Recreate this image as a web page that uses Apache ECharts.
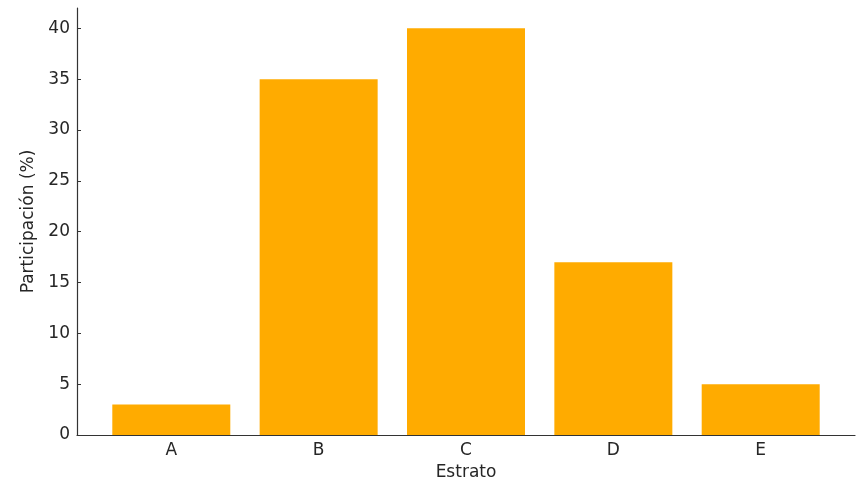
<!DOCTYPE html>
<html>
<head>
<meta charset="utf-8">
<script src="https://cdn.jsdelivr.net/npm/echarts@6/dist/echarts.min.js"></script>
<style>
  html, body { margin: 0; padding: 0; background: #fff; }
  #chart { width: 857px; height: 484px; }
</style>
</head>
<body>
<div id="chart"></div>
<script>
// Participation by stratum
const categories = ['A', 'B', 'C', 'D', 'E'];
const participation = [3, 35, 40, 17, 5];
const yTicks = [0, 5, 10, 15, 20, 25, 30, 35, 40];

const chart = echarts.init(document.getElementById('chart'), null, { renderer: 'canvas' });
const textColor = '#262626';
const font = 'DejaVu Sans';
const fontSize = 17;

chart.setOption({
  animation: false,
  backgroundColor: '#ffffff',
  grid: { left: 77, right: 2, top: 8, bottom: 49, containLabel: false, outerBoundsMode: 'none' },
  xAxis: {
    type: 'value',
    min: -0.64,
    max: 4.64,
    name: 'Estrato',
    nameLocation: 'middle',
    nameGap: 26,
    nameTextStyle: { color: textColor, fontFamily: font, fontSize: fontSize },
    splitLine: { show: false },
    axisLine: { show: true, onZero: false, lineStyle: { color: '#333', width: 1.2 } },
    axisTick: { show: true, inside: true, length: 4, customValues: categories.map((_, i) => i), lineStyle: { color: '#333' } },
    axisLabel: {
      customValues: categories.map((_, i) => i),
      formatter: v => categories[Math.round(v)] ?? '',
      color: textColor, fontFamily: font, fontSize: fontSize, margin: 7
    }
  },
  yAxis: {
    type: 'value',
    min: 0,
    max: 42,
    name: 'Participación (%)',
    nameLocation: 'middle',
    nameGap: 35,
    nameTextStyle: { color: textColor, fontFamily: font, fontSize: fontSize },
    splitLine: { show: false },
    axisLine: { show: true, onZero: false, lineStyle: { color: '#333', width: 1.2 } },
    axisTick: { show: true, inside: true, length: 4, customValues: yTicks, lineStyle: { color: '#333' } },
    axisLabel: {
      customValues: yTicks,
      color: textColor, fontFamily: font, fontSize: fontSize, margin: 7
    }
  },
  series: [{
    type: 'bar',
    data: participation.map((v, i) => [i, v]),
    barWidth: 118,
    itemStyle: { color: '#FFAB00' }
  }]
});
</script>
</body>
</html>
